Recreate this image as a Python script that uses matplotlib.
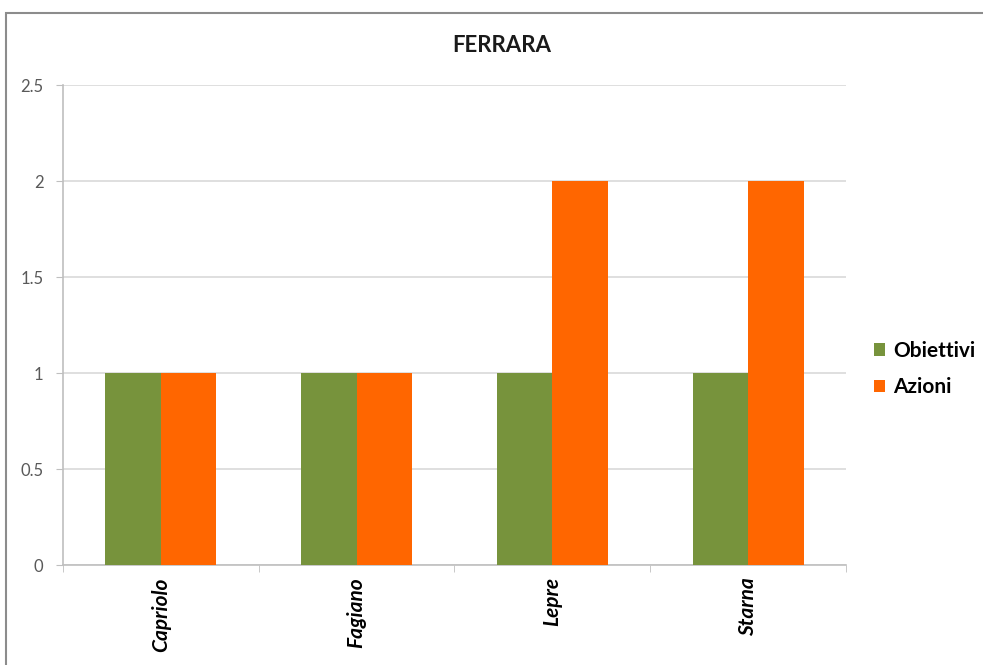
import matplotlib
matplotlib.use('agg')
import matplotlib.pyplot as plt
import numpy as np
from matplotlib.patches import Rectangle

categories = ['Capriolo', 'Fagiano', 'Lepre', 'Starna']
obiettivi = [1, 1, 1, 1]
azioni = [1, 1, 2, 2]
yticks = [0, 0.5, 1, 1.5, 2, 2.5]
ytick_labels = ['0', '0.5', '1', '1.5', '2', '2.5']

plt.rcParams['font.family'] = ['Lato', 'DejaVu Sans']

fig = plt.figure(figsize=(9.83, 6.65), dpi=100)
ax = fig.add_axes([63/983, 1 - 565/665, (846-63)/983, (565-85)/665])

# outer chart border (runs off the right and bottom edges)
fig.patches.append(Rectangle((6/983, -0.1), 1.2, 1.1 - 13/665, transform=fig.transFigure,
                             fill=False, edgecolor='#8c8c8c', linewidth=1.5))

x = np.arange(len(categories))
w = 0.283
ax.bar(x - w/2, obiettivi, w, color='#77933C', label='Obiettivi', zorder=3)
ax.bar(x + w/2, azioni, w, color='#FF6600', label='Azioni', zorder=3)

ax.set_xlim(-0.5, len(categories) - 0.5)
ax.set_ylim(0, 2.5)
ax.set_yticks(yticks)
ax.set_yticklabels(ytick_labels)
ax.yaxis.grid(True, color='#d9d9d9', linewidth=1.2, zorder=0)
ax.tick_params(axis='y', length=5, color='#bfbfbf', labelcolor='#595959',
               labelsize=12, pad=9)

ax.set_xticks(x)
ax.set_xticklabels(categories, rotation=90, fontstyle='italic', fontweight='bold',
                   fontsize=15, color='black')
ax.set_xticks(np.arange(-0.5, len(categories)), minor=True)
ax.tick_params(axis='x', which='major', length=0, pad=9)
ax.tick_params(axis='x', which='minor', length=5, color='#bfbfbf')

for s in ['top', 'right']:
    ax.spines[s].set_visible(False)
for s in ['left', 'bottom']:
    ax.spines[s].set_color('#bfbfbf')
    ax.spines[s].set_linewidth(1.2)

fig.text(502/983, 1 - 45/665, 'FERRARA', ha='center', va='center',
         fontsize=16, fontweight='bold', color='#1a1a1a')

fig.legend(loc='center left', bbox_to_anchor=(874/983, 1 - 369/665),
           bbox_transform=fig.transFigure, frameon=False, borderpad=0,
           borderaxespad=0, handlelength=0.55, handleheight=0.55,
           handletextpad=0.35, labelspacing=0.8,
           prop={'weight': 'bold', 'size': 15})

fig.savefig('out.png', dpi=100)
